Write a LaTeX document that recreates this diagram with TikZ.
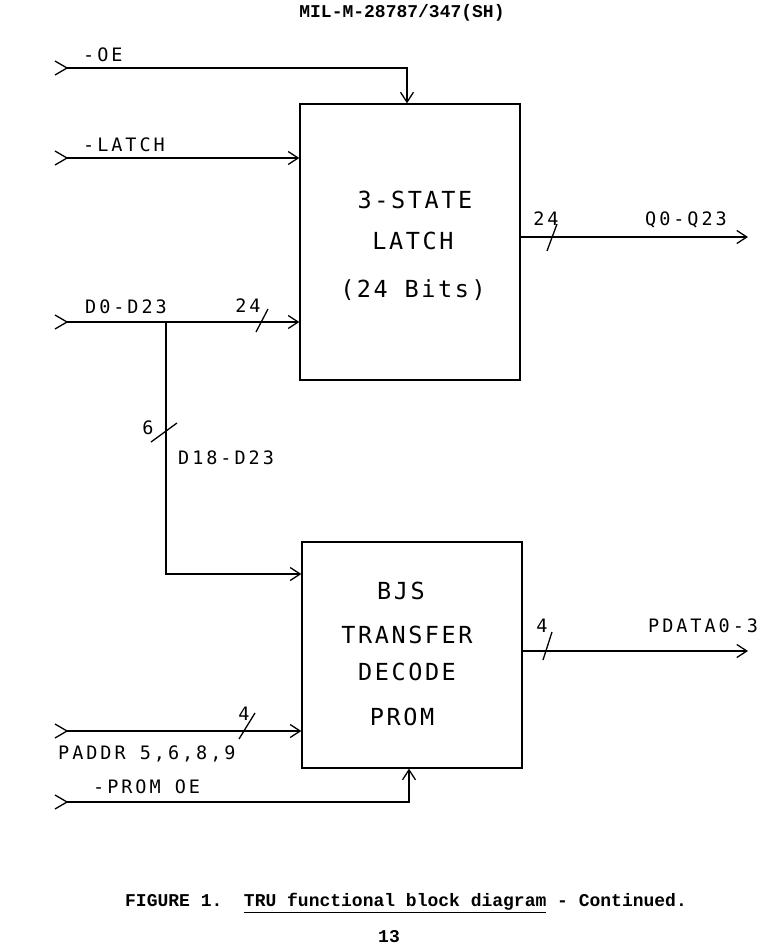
\documentclass[tikz,border=0pt]{standalone}
\usepackage{fontspec}
\usetikzlibrary{arrows.meta}
\newfontfamily\plotfont[LetterSpace=16]{DejaVu Sans Mono}
\newfontfamily\boxfont[LetterSpace=11]{DejaVu Sans Mono}
\newfontfamily\capfont{Liberation Mono}
\tikzset{
  wire/.style={line width=1.3pt},
  arr/.style={wire,-{Straight Barb[length=10pt,width=13pt,line width=1.3pt]}},
  blk/.style={draw,line width=1.3pt,minimum width=220pt,inner sep=0pt},
  lbl/.style={inner sep=0pt,anchor=west,font=\plotfont\fontsize{18.5}{22}\selectfont},
  num/.style={inner sep=0pt,font=\plotfont\fontsize{18.5}{22}\selectfont},
  btxt/.style={inner sep=0pt,font=\boxfont\fontsize{23.5}{28}\selectfont},
  captxt/.style={inner sep=0pt,font=\capfont\bfseries\fontsize{18}{22}\selectfont},
  slash/.style={line width=1.3pt},
  chev/.style={line width=1.3pt}
}
\begin{document}
\begin{tikzpicture}[x=1pt,y=-1pt]
\useasboundingbox (0,0) rectangle (759,946);
% header
\node[captxt] (hdr) at (402,13) {MIL-M-28787/347(SH)};
% blocks
\node[blk,minimum height=276pt] (latch) at (410,242) {};
\node[blk,minimum height=226pt] (prom) at (412,655) {};
% block texts
\node[btxt] (l1) at (415,200) {3-STATE};
\node[btxt] (l2) at (413,241) {LATCH};
\node[btxt] (l3) at (413,290) {(24 Bits)};
\node[btxt] (p1) at (401,591) {BJS};
\node[btxt] (p2) at (407,635) {TRANSFER};
\node[btxt] (p3) at (407,672) {DECODE};
\node[btxt] (p4) at (402,717) {PROM};
% input points
\coordinate (inOE) at (67,68);
\coordinate (inLA) at (67,158);
\coordinate (inD) at (67,322);
\coordinate (inPA) at (67,731);
\coordinate (inPO) at (67,802);
\foreach \c in {inOE,inLA,inD,inPA,inPO}{
  \draw[chev] ([shift={(-12,-7)}]\c) -- (\c) -- ([shift={(-12,7)}]\c);
}
% connectors
\draw[arr] (inOE) -| ([xshift=-3pt]latch.north);
\draw[arr] (inLA) -- (inLA -| latch.west);
\draw[arr] (inD) -- (inD -| latch.west);
\coordinate (br) at (166,322);
\draw[arr] (br) |- ([yshift=81pt]prom.west);
\coordinate (qout) at (748,237);
\draw[arr] (qout -| latch.east) -- (qout);
\coordinate (pout) at (748,651);
\draw[arr] (pout -| prom.east) -- (pout);
\draw[arr] (inPA) -- (inPA -| prom.west);
\draw[arr] (inPO) -| ([xshift=-3pt]prom.south);
% bus slashes
\draw[slash] (256,332) -- (268,309);
\draw[slash] (151,442) -- (177,423);
\draw[slash] (547,251) -- (557,224);
\draw[slash] (543,660) -- (552,632);
\draw[slash] (239,739) -- (255,713);
% labels
\node[lbl] (tOE) at (83,55) {-OE};
\node[lbl] (tLA) at (83,145) {-LATCH};
\node[lbl] (tD) at (85,307) {D0-D23};
\node[lbl] (tD18) at (178,458) {D18-D23};
\node[lbl] (tQ) at (645,220) {Q0-Q23};
\node[lbl] (tPD) at (648,626) {PDATA0-3};
\node[lbl] (tPA) at (58,754) {PADDR 5,6,8,9};
\node[lbl] (tPO) at (93,787) {-PROM OE};
\node[num] (n24a) at (248,306) {24};
\node[num] (n6) at (148,428) {6};
\node[num] (n24b) at (546,219) {24};
\node[num] (n4a) at (542,626) {4};
\node[num] (n4b) at (244,714) {4};
% caption
\node[captxt] (capt) at (406,903) {FIGURE 1.\ \ \underline{TRU functional block diagram} - Continued.};
\node[captxt] (pg) at (389,937) {13};
\end{tikzpicture}
\end{document}
